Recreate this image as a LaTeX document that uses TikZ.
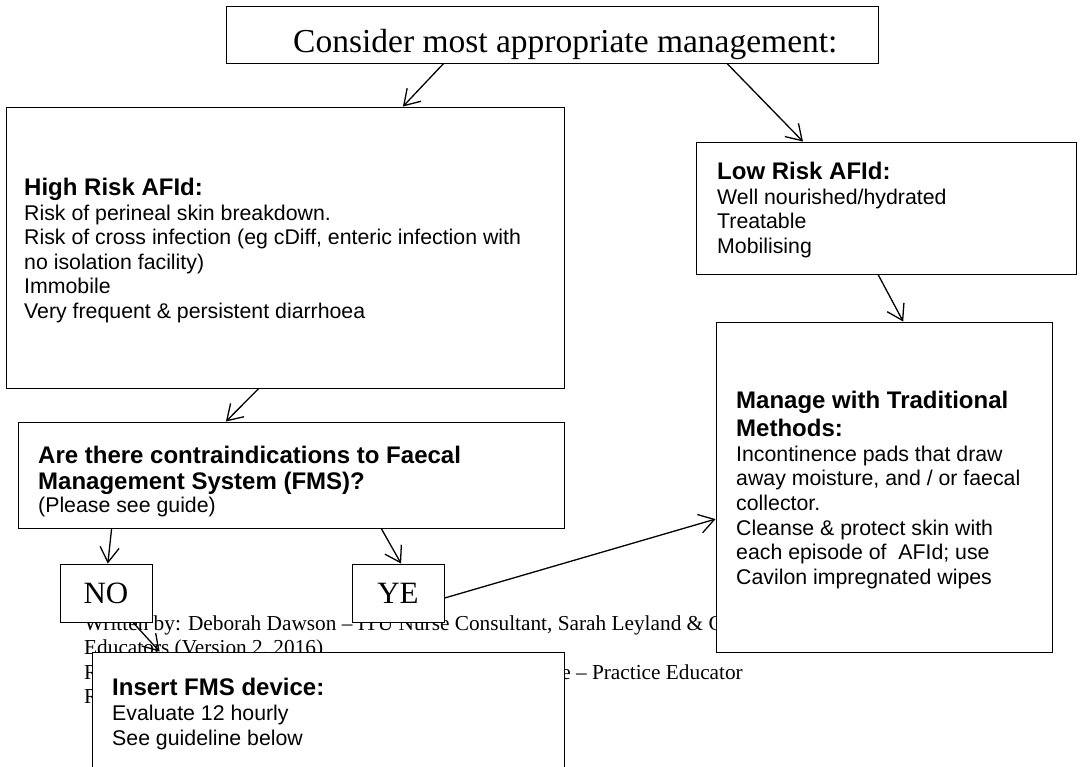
\documentclass[tikz,border=0pt]{standalone}
\usepackage{fontspec}
\setmainfont{Liberation Serif}
\newfontfamily\arialfont{Liberation Sans}
\usetikzlibrary{arrows.meta,calc}
\newcommand{\bdfont}{\fontsize{21.3}{24.6}\selectfont\mdseries}
\begin{document}
\begin{tikzpicture}[x=1pt,y=-1pt,
  box/.style={draw, line width=0.9pt, fill=white, rectangle, inner sep=0pt},
  arr/.style={-{Straight Barb[length=15pt,width=19pt]}, line width=1.3pt},
  txt/.style={anchor=base west, inner sep=0pt}]
\useasboundingbox (0,0) rectangle (1083,767);
\clip (0,0) rectangle (1083,767);
\fill[white] (0,0) rectangle (1083,767);

% upper boxes
\node[box, minimum width=652pt, minimum height=57pt] (top) at (552,34.5) {};
\node[txt, font=\fontsize{33.5}{38}\selectfont] (toptext) at (293,53) {Consider most appropriate management:};

\node[box, minimum width=558pt, minimum height=281pt] (hr) at (285,247.5) {};
\node[txt] (hrtext) at (24,195.6) {\parbox[t]{540pt}{\raggedright\arialfont
  \fontsize{24}{27.5}\selectfont\bfseries High Risk AFId:\par
  \bdfont Risk of perineal skin breakdown.\par
  Risk of cross infection (eg cDiff, enteric infection with\par
  no isolation facility)\par
  Immobile\par
  Very frequent \& persistent diarrhoea}};

\node[box, minimum width=380pt, minimum height=132pt] (low) at (886,208) {};
\node[txt] (lowtext) at (717,179.6) {\parbox[t]{350pt}{\raggedright\arialfont
  \fontsize{24}{27.5}\selectfont\bfseries Low Risk AFId:\par
  \bdfont Well nourished/hydrated\par
  Treatable\par
  Mobilising}};

\node[box, minimum width=546pt, minimum height=106pt] (con) at (291,475) {};
\node[txt] (context) at (38,463.6) {\parbox[t]{520pt}{\raggedright\arialfont
  \fontsize{24}{25.5}\selectfont\bfseries Are there contraindications to Faecal\par
  Management System (FMS)?\par
  \fontsize{21.3}{23}\selectfont\mdseries (Please see guide)}};

% footer text (partly covered by boxes)
\node[txt, font=\fontsize{21.3}{24.5}\selectfont] (wb1) at (84,630) {Written by: Deborah Dawson – ITU Nurse Consultant, Sarah Leyland \& C};
\node[txt, font=\fontsize{21.3}{24.5}\selectfont] (wb2) at (84,654.5) {Educators (Version 2, 2016)};
\node[txt, font=\fontsize{21.3}{24.5}\selectfont] (wb3) at (84,679) {R};
\node[anchor=base east, inner sep=0pt, font=\fontsize{21.3}{24.5}\selectfont] (wb3b) at (743,679) {e – Practice Educator};
\node[txt, font=\fontsize{21.3}{24.5}\selectfont] (wb4) at (84,703.5) {R};

% lower boxes
\node[box, minimum width=92pt, minimum height=58pt, font=\fontsize{31}{34}\selectfont] (no) at (106,593) {NO};
\node[box, minimum width=92pt, minimum height=58pt, font=\fontsize{31}{34}\selectfont] (ye) at (398,593) {YE};

\node[box, minimum width=336pt, minimum height=330pt] (trad) at (884,487) {};
\node[txt] (tradtext) at (736,408.6) {\parbox[t]{310pt}{\raggedright\arialfont
  \fontsize{24}{28}\selectfont\bfseries Manage with Traditional\par
  Methods:\par
  \bdfont Incontinence pads that draw\par
  away moisture, and / or faecal\par
  collector.\par
  Cleanse \& protect skin with\par
  each episode of \ AFId; use\par
  Cavilon impregnated wipes}};

\node[box, minimum width=472pt, minimum height=160pt] (ins) at (328,732) {};
\node[txt] (instext) at (112,695.6) {\parbox[t]{440pt}{\raggedright\arialfont
  \fontsize{24}{27.5}\selectfont\bfseries Insert FMS device:\par
  \fontsize{21.3}{25}\selectfont\mdseries Evaluate 12 hourly\par
  See guideline below}};

% connectors
\draw[arr] ($(top.south west)!0.334!(top.south east)$) -- ($(hr.north west)!0.711!(hr.north east)$);
\draw[arr] ($(top.south west)!0.768!(top.south east)$) -- ($(low.north west)!0.282!(low.north east)$);
\draw[arr] ($(low.south west)!0.479!(low.south east)$) -- ($(trad.north west)!0.557!(trad.north east)$);
\draw[arr] ($(hr.south west)!0.453!(hr.south east)$) -- ($(con.north west)!0.381!(con.north east)$);
\draw[arr] ($(con.south west)!0.172!(con.south east)$) -- ($(no.north west)!0.52!(no.north east)$);
\draw[arr] ($(con.south west)!0.665!(con.south east)$) -- ($(ye.north west)!0.533!(ye.north east)$);
\draw[arr] ($(ye.north east)!0.586!(ye.south east)$) -- ($(trad.north west)!0.597!(trad.south west)$);
\draw[arr] ($(no.south west)!0.79!(no.south east)$) -- ($(ins.north west)!0.144!(ins.north east)$);
\end{tikzpicture}
\end{document}
